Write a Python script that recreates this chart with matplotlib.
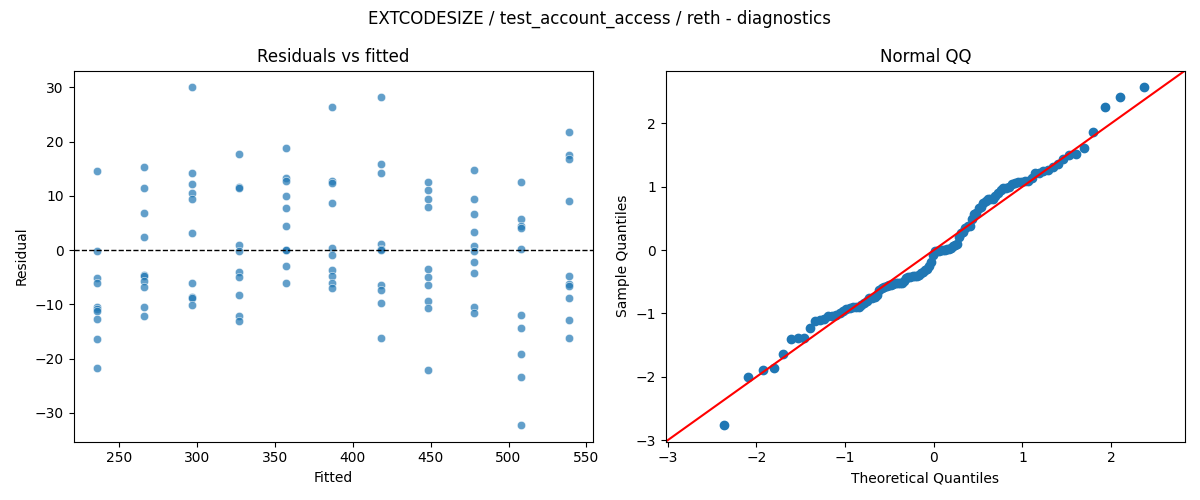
import math
import numpy as np
import pandas as pd
import matplotlib
matplotlib.use("Agg")
import matplotlib.pyplot as plt
import seaborn as sns

# ---- data ----
fitted_levels = [236, 266, 297, 327, 357, 387, 418, 448, 478, 508, 539]
res_236 = [14.6, -0.1, -5.2, -6.1, -10.5, -10.8, -11.3, -12.6, -16.3, -21.7]
res_266 = [15.3, 11.5, 6.9, 2.5, -4.5, -4.8, -5.6, -6.8, -10.4, -12.1]
res_297 = [30.0, 14.2, 12.2, 10.5, 9.5, 3.2, -6.0, -8.7, -8.9, -10.1]
res_327 = [17.7, 11.7, 11.5, 0.9, -0.2, -4.0, -4.9, -8.2, -12.2, -13.0]
res_357 = [18.8, 13.4, 12.8, 10.0, 7.8, 4.5, 0.1, 0.0, -2.9, -6.0]
res_387 = [26.4, 12.8, 12.4, 8.7, 0.4, -0.9, -3.6, -4.8, -6.1, -6.9]
res_418 = [28.2, 15.9, 14.2, 1.2, 0.3, 0.0, -6.4, -7.3, -9.7, -16.1]
res_448 = [12.6, 11.1, 9.5, 8.0, -3.5, -4.9, -6.5, -9.4, -10.6, -22.0]
res_478 = [14.7, 9.5, 6.7, 3.4, 0.7, -0.1, -2.1, -4.2, -10.4, -11.5]
res_508 = [12.6, 5.8, 4.4, 4.1, 0.25, -11.9, -14.3, -19.1, -23.3, -32.2]
res_539 = [21.8, 17.6, 16.8, 9.1, -4.7, -6.2, -6.6, -8.8, -12.8, -16.1]

groups = [res_236, res_266, res_297, res_327, res_357, res_387,
          res_418, res_448, res_478, res_508, res_539]

fitted = []
resid = []
for f, g in zip(fitted_levels, groups):
    fitted += [f] * len(g)
    resid += g
df = pd.DataFrame({"Fitted": fitted, "Residual": resid})


def norm_ppf(p):
    lo, hi = -10.0, 10.0
    for _ in range(100):
        mid = 0.5 * (lo + hi)
        if 0.5 * (1 + math.erf(mid / math.sqrt(2))) < p:
            lo = mid
        else:
            hi = mid
    return 0.5 * (lo + hi)


r = np.array(resid, dtype=float)
n = len(r)
sample_q = np.sort((r - r.mean()) / r.std())
pos = np.arange(1, n + 1) / (n + 1)
theo_q = np.array([norm_ppf(p) for p in pos])

fig, axes = plt.subplots(1, 2, figsize=(12, 5), dpi=100)

ax = axes[0]
sns.scatterplot(data=df, x="Fitted", y="Residual", ax=ax, alpha=0.7)
ax.axhline(0, color="black", linestyle="--", linewidth=1)
ax.set_title("Residuals vs fitted")

ax = axes[1]
ax.plot(theo_q, sample_q, "o", color="#1f77b4")
xl = ax.get_xlim()
yl = ax.get_ylim()
lo = min(xl[0], yl[0])
hi = max(xl[1], yl[1])
ax.plot([lo, hi], [lo, hi], color="red")
ax.set_xlim(lo, hi)
ax.set_ylim(lo, hi)
ax.set_xlabel("Theoretical Quantiles")
ax.set_ylabel("Sample Quantiles")
ax.set_title("Normal QQ")

fig.suptitle("EXTCODESIZE / test_account_access / reth - diagnostics")
fig.tight_layout()
fig.savefig("out.png")
